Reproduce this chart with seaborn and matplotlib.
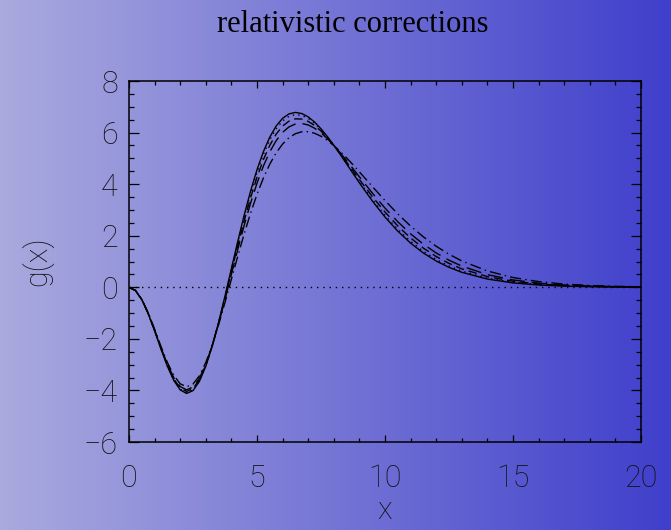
import numpy as np
import pandas as pd
import matplotlib
matplotlib.use("Agg")
import matplotlib.pyplot as plt
import seaborn as sns

# Dimensionless frequency grid
x_vals = [0.0, 0.25, 0.5, 0.75, 1.0, 1.25, 1.5, 1.75, 2.0, 2.25, 2.5, 2.75,
          3.0, 3.25, 3.5, 3.75, 4.0, 4.25, 4.5, 4.75, 5.0, 5.25, 5.5, 5.75,
          6.0, 6.25, 6.5, 6.75, 7.0, 7.25, 7.5, 7.75, 8.0, 8.25, 8.5, 8.75,
          9.0, 9.5, 10.0, 10.5, 11.0, 11.5, 12.0, 12.5, 13.0, 14.0, 15.0,
          16.0, 17.0, 18.0, 19.0, 20.0]

# Non-relativistic spectral shape
g_nonrel = [0.0, -0.1237, -0.4796, -1.0239, -1.6904, -2.3992, -3.0664, -3.6143,
            -3.9792, -4.1173, -4.0068, -3.6484, -3.0623, -2.2839, -1.3589, -0.3384,
            0.7262, 1.7865, 2.8001, 3.7327, 4.5581, 5.2590, 5.8258, 6.2561,
            6.5532, 6.7248, 6.7822, 6.7386, 6.6083, 6.4061, 6.1463, 5.8426,
            5.5073, 5.1516, 4.7852, 4.4161, 4.0513, 3.3546, 2.7247, 2.1760,
            1.7119, 1.3289, 1.0193, 0.7734, 0.5810, 0.3194, 0.1704, 0.0885,
            0.0450, 0.0224, 0.0110, 0.0053]

# Relativistically corrected shapes, increasing electron temperature
g_t1 = [0.0, -0.1233, -0.4781, -1.0203, -1.6837, -2.3884, -3.0508, -3.5939,
        -3.9549, -4.0907, -3.9807, -3.6260, -3.0473, -2.2798, -1.3686, -0.3640,
        0.6836, 1.7271, 2.7252, 3.6446, 4.4597, 5.1539, 5.7178, 6.1490,
        6.4504, 6.6295, 6.6971, 6.6657, 6.5491, 6.3614, 6.1165, 5.8274,
        5.5062, 5.1637, 4.8092, 4.4508, 4.0951, 3.4123, 2.7905, 2.2449,
        1.7800, 1.3934, 1.0782, 0.8258, 0.6264, 0.3516, 0.1919, 0.1021,
        0.0532, 0.0272, 0.0137, 0.0068]

g_t2 = [0.0, -0.1226, -0.4751, -1.0133, -1.6706, -2.3674, -3.0206, -3.5544,
        -3.9076, -4.0392, -3.9300, -3.5827, -3.0182, -2.2718, -1.3875, -0.4138,
        0.6010, 1.6119, 2.5798, 3.4735, 4.2688, 4.9500, 5.5082, 5.9410,
        6.2509, 6.4447, 6.5319, 6.5242, 6.4341, 6.2747, 6.0585, 5.7980,
        5.5041, 5.1870, 4.8559, 4.5180, 4.1802, 3.5242, 2.9182, 2.3788,
        1.9123, 1.5185, 1.1926, 0.9274, 0.7146, 0.4142, 0.2335, 0.1284,
        0.0692, 0.0366, 0.0191, 0.0098]

g_t3 = [0.0, -0.1218, -0.4715, -1.0048, -1.6548, -2.3419, -2.9839, -3.5065,
        -3.8503, -3.9767, -3.8685, -3.5301, -2.9830, -2.2621, -1.4103, -0.4741,
        0.5008, 1.4722, 2.4036, 3.2661, 4.0373, 4.7028, 5.2541, 5.6889,
        6.0091, 6.2205, 6.3317, 6.3528, 6.2948, 6.1695, 5.9883, 5.7622,
        5.5015, 5.2154, 4.9124, 4.5996, 4.2833, 3.6599, 3.0730, 2.5410,
        2.0727, 1.6702, 1.3313, 1.0506, 0.8214, 0.4900, 0.2840, 0.1604,
        0.0886, 0.0479, 0.0255, 0.0133]

g_t4 = [0.0, -0.1201, -0.4648, -0.9888, -1.6251, -2.2941, -2.9152, -3.4166,
        -3.7429, -3.8595, -3.7533, -3.4314, -2.9169, -2.2439, -1.4532, -0.5872,
        0.3129, 1.2102, 2.0733, 2.8772, 3.6034, 4.2393, 4.7777, 5.2161,
        5.5557, 5.8003, 5.9563, 6.0312, 6.0335, 5.9724, 5.8566, 5.6953,
        5.4966, 5.2686, 5.0184, 4.7525, 4.4767, 3.9143, 3.3633, 2.8452,
        2.3733, 1.9547, 1.5912, 1.2815, 1.0218, 0.6322, 0.3786, 0.2203,
        0.1249, 0.0692, 0.0376, 0.0200]

series_names = ["kT0", "kT1", "kT2", "kT3", "kT4"]
series_vals = [g_nonrel, g_t1, g_t2, g_t3, g_t4]

x_ticks = [0, 5, 10, 15, 20]
y_ticks = [-6, -4, -2, 0, 2, 4, 6, 8]

df = pd.DataFrame({
    "x": np.tile(x_vals, len(series_names)),
    "g": np.concatenate(series_vals),
    "curve": np.repeat(series_names, len(x_vals)),
})

sns.set_theme(style="ticks")
plt.rcParams["font.family"] = ["Roboto", "DejaVu Sans"]
plt.rcParams["axes.unicode_minus"] = True

W, H = 671, 530
fig = plt.figure(figsize=(W / 100, H / 100), dpi=100)

# Horizontal lavender-to-blue backdrop
bg = fig.add_axes([0, 0, 1, 1], zorder=-10)
left_c = np.array([170, 170, 223]) / 255.0
right_c = np.array([63, 63, 204]) / 255.0
t = np.linspace(0, 1, 400)[None, :, None]
grad = left_c[None, None, :] * (1 - t) + right_c[None, None, :] * t
bg.imshow(grad, aspect="auto", extent=[0, 1, 0, 1])
bg.set_axis_off()

ax = fig.add_axes([129 / W, 1 - 442 / H, (641 - 129) / W, (442 - 81) / H])
ax.set_facecolor("none")

dash_map = {
    "kT0": "",
    "kT1": (1, 3),
    "kT2": (6, 3.5),
    "kT3": (11, 5),
    "kT4": (8, 3, 1, 3),
}
sns.lineplot(data=df, x="x", y="g", style="curve", dashes=dash_map,
             color="black", linewidth=1.0, legend=False, ax=ax, sort=False)

ax.axhline(0, color="black", linewidth=1.0, linestyle=(0, (1, 3.5)))

ax.set_xlim(0, 20)
ax.set_ylim(-6, 8)
ax.set_xticks(x_ticks)
ax.set_yticks(y_ticks)
ax.xaxis.set_minor_locator(matplotlib.ticker.MultipleLocator(1))
ax.yaxis.set_minor_locator(matplotlib.ticker.MultipleLocator(0.5))

for s in ax.spines.values():
    s.set_visible(True)
    s.set_color("black")
    s.set_linewidth(1.1)

ax.tick_params(axis="both", which="both", direction="in", top=True, right=True,
               colors="black", width=0.9)
ax.tick_params(axis="x", which="major", length=5.2, pad=16)
ax.tick_params(axis="x", which="minor", length=2.6)
ax.tick_params(axis="y", which="major", length=7.3, pad=8)
ax.tick_params(axis="y", which="minor", length=3.7)

for lab in ax.get_xticklabels() + ax.get_yticklabels():
    lab.set_fontsize(22)
    lab.set_fontweight("light")
    lab.set_color("#111111")

ax.set_xlabel("x", fontsize=22, fontweight="light", color="#111111", labelpad=2)
ax.set_ylabel("g(x)", fontsize=22, fontweight="light", color="#111111", labelpad=22)

fig.text(353 / W, 1 - 31.5 / H, "relativistic corrections", ha="center",
         va="baseline", fontsize=22, family=["Liberation Serif", "DejaVu Serif"],
         color="black")

fig.savefig("out.png", dpi=100)
